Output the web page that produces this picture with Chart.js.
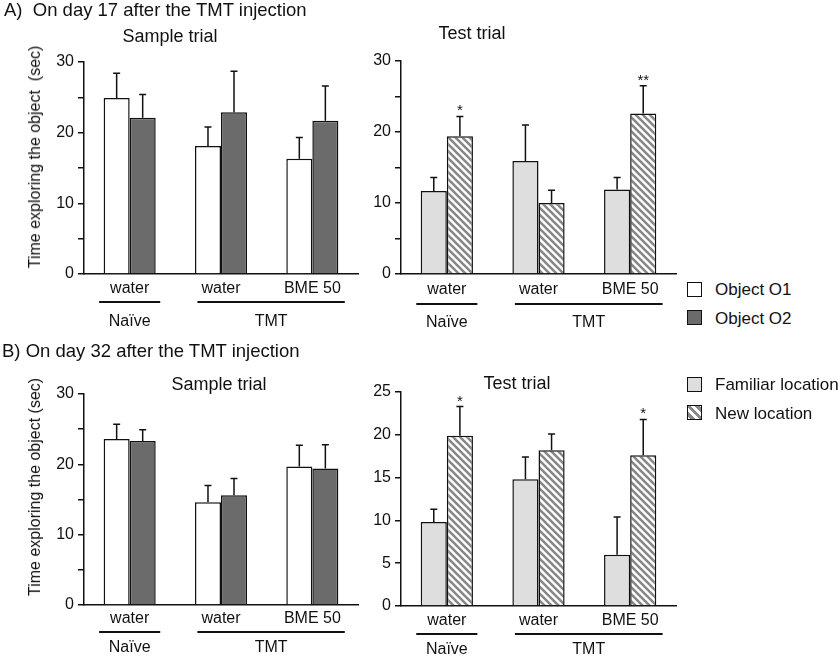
<!DOCTYPE html>
<html>
<head>
<meta charset="utf-8">
<script src="https://cdn.jsdelivr.net/npm/chart.js@4"></script>
<style>
  body { margin: 0; background: #fff; }
  #fig { position: relative; width: 838px; height: 657px; font-family: "Liberation Sans", Arial, sans-serif; color: #111; }
  #fig canvas { position: absolute; }
  .t { position: absolute; white-space: nowrap; line-height: 1; }
  .l { transform: translate(0, -50%); }
  .c { transform: translate(-50%, -50%); }
  .v { transform: translate(-50%, -50%) rotate(-90deg); }
  .box { position: absolute; width: 15px; height: 15px; border: 1.5px solid #111; box-sizing: border-box; }
</style>
</head>
<body>
<div id="fig">
  <canvas id="aSample" width="360" height="330" style="left:0;top:0"></canvas>
  <canvas id="aTest" width="320" height="330" style="left:360px;top:0"></canvas>
  <canvas id="bSample" width="360" height="327" style="left:0;top:330px"></canvas>
  <canvas id="bTest" width="320" height="327" style="left:360px;top:330px"></canvas>

  <div class="t l" style="left:4px;top:10px;font-size:18.5px">A)&nbsp; On day 17 after the TMT injection</div>
  <div class="t c" style="left:170px;top:36px;font-size:18px">Sample trial</div>
  <div class="t c" style="left:472px;top:33px;font-size:18px">Test trial</div>
  <div class="t v" style="left:35px;top:157px;font-size:16px">Time exploring the object&nbsp; (sec)</div>

  <div class="t l" style="left:2px;top:351px;font-size:18.5px">B) On day 32 after the TMT injection</div>
  <div class="t c" style="left:219px;top:384px;font-size:18px">Sample trial</div>
  <div class="t c" style="left:517px;top:383px;font-size:18px">Test trial</div>
  <div class="t v" style="left:35px;top:487px;font-size:16px">Time exploring the object (sec)</div>

  <div class="box" style="left:687px;top:282px;background:#fff"></div>
  <div class="t l" style="left:715px;top:289px;font-size:17px">Object O1</div>
  <div class="box" style="left:687px;top:310px;background:#6b6b6b"></div>
  <div class="t l" style="left:715px;top:318px;font-size:17px">Object O2</div>
  <div class="box" style="left:687px;top:377px;background:#dedede"></div>
  <div class="t l" style="left:715px;top:384px;font-size:17px">Familiar location</div>
  <div class="box" style="left:687px;top:405px;background:repeating-linear-gradient(45deg,#fff 0 2px,#888 2px 5px,#fff 5px 6px)"></div>
  <div class="t l" style="left:715px;top:413px;font-size:17px">New location</div>
</div>

<script>
const FONT = '"Liberation Sans", Arial, sans-serif';

// categories and the groups under them
const treatments = ['water', 'water', 'BME 50'];
const groupNames = ['Naïve', 'TMT'];
const groupOf = [0, 1, 1];

// day 17, sample trial
const aSampleO1 = [24.9, 18.1, 16.3];
const aSampleO1Err = [3.5, 2.7, 3.0];
const aSampleO2 = [22.1, 22.9, 21.7];
const aSampleO2Err = [3.3, 5.8, 4.9];

// day 17, test trial
const aTestFamiliar = [11.7, 15.9, 11.9];
const aTestFamiliarErr = [1.9, 5.1, 1.7];
const aTestNew = [19.4, 10.0, 22.6];
const aTestNewErr = [2.8, 1.8, 3.9];
const aTestStars = ['*', '', '**'];

// day 32, sample trial
const bSampleO1 = [23.6, 14.6, 19.7];
const bSampleO1Err = [2.1, 2.4, 3.0];
const bSampleO2 = [23.3, 15.6, 19.4];
const bSampleO2Err = [1.6, 2.4, 3.4];

// day 32, test trial
const bTestFamiliar = [9.8, 14.8, 6.0];
const bTestFamiliarErr = [1.5, 2.6, 4.4];
const bTestNew = [19.9, 18.2, 17.6];
const bTestNewErr = [3.4, 1.9, 4.2];
const bTestStars = ['*', '', '*'];

Chart.defaults.font.family = FONT;
Chart.defaults.color = '#111';

function hatch() {
  const c = document.createElement('canvas');
  c.width = 7; c.height = 7;
  const g = c.getContext('2d');
  g.fillStyle = '#fff';
  g.fillRect(0, 0, 7, 7);
  g.strokeStyle = '#888';
  g.lineWidth = 2.6;
  g.beginPath();
  g.moveTo(-2, -2); g.lineTo(9, 9);
  g.moveTo(-9, -2); g.lineTo(2, 9);
  g.moveTo(5, -2); g.lineTo(16, 9);
  g.stroke();
  return g.createPattern(c, 'repeat');
}

const extras = {
  id: 'extras',
  afterDatasetsDraw(chart) {
    const ctx = chart.ctx, y = chart.scales.y;
    ctx.save();
    ctx.strokeStyle = '#111';
    ctx.lineWidth = 1.5;
    chart.data.datasets.forEach((ds, i) => {
      chart.getDatasetMeta(i).data.forEach((bar, j) => {
        const top = y.getPixelForValue(ds.data[j] + ds.errors[j]);
        ctx.beginPath();
        ctx.moveTo(bar.x, bar.y);
        ctx.lineTo(bar.x, top);
        ctx.moveTo(bar.x - 3.5, top);
        ctx.lineTo(bar.x + 3.5, top);
        ctx.stroke();
        if (ds.stars && ds.stars[j]) {
          ctx.font = '15px ' + FONT;
          ctx.fillStyle = '#111';
          ctx.textAlign = 'center';
          ctx.textBaseline = 'alphabetic';
          ctx.fillText(ds.stars[j], bar.x, top - 1);
        }
      });
    });
    ctx.restore();
  },
  afterDraw(chart, args, opts) {
    const ctx = chart.ctx, x = chart.scales.x, b = chart.chartArea.bottom;
    const labels = chart.data.labels;
    ctx.save();
    ctx.font = '16px ' + FONT;
    ctx.fillStyle = '#111';
    ctx.strokeStyle = '#111';
    ctx.lineWidth = 2;
    ctx.textAlign = 'center';
    ctx.textBaseline = 'middle';
    groupNames.forEach((name, g) => {
      const idx = labels.map((_, i) => i).filter(i => groupOf[i] === g);
      const first = idx[0], last = idx[idx.length - 1];
      const pad = opts.pads[g];
      const x0 = x.getPixelForValue(first) - ctx.measureText(labels[first]).width / 2 - pad;
      const x1 = x.getPixelForValue(last) + ctx.measureText(labels[last]).width / 2 + pad;
      ctx.beginPath();
      ctx.moveTo(x0, b + opts.lineDy);
      ctx.lineTo(x1, b + opts.lineDy);
      ctx.stroke();
      ctx.fillText(name, (x0 + x1) / 2, b + opts.labelDy);
    });
    ctx.restore();
  }
};

function makeChart(id, sets, layout) {
  return new Chart(document.getElementById(id), {
    type: 'bar',
    data: {
      labels: treatments,
      datasets: sets.map(s => ({
        data: s.data,
        errors: s.errors,
        stars: s.stars,
        backgroundColor: s.fill,
        borderColor: '#111',
        borderWidth: 1.5,
        borderSkipped: 'bottom',
        categoryPercentage: 0.57,
        barPercentage: 1
      }))
    },
    options: {
      responsive: false,
      animation: false,
      layout: { padding: { top: layout.top, right: layout.right, left: 0, bottom: 0 } },
      plugins: {
        legend: { display: false },
        tooltip: { enabled: false },
        extras: { pads: [11, 4], lineDy: layout.lineDy, labelDy: layout.labelDy }
      },
      scales: {
        x: {
          grid: { display: false, drawTicks: false },
          border: { display: true, color: '#111', width: 1.5 },
          ticks: { font: { size: 16 }, padding: layout.tickPad, maxRotation: 0 },
          afterFit: s => { s.height = layout.xH; }
        },
        y: {
          min: 0,
          max: layout.max,
          grid: { drawOnChartArea: false, drawTicks: true, tickLength: 6, color: '#111', lineWidth: 1.5 },
          border: { display: true, color: '#111', width: 1.5 },
          ticks: {
            stepSize: 5,
            padding: 4,
            font: { size: 16 },
            callback: v => (v % layout.labelEvery === 0 ? v : '')
          },
          afterFit: s => { s.width = layout.yW; }
        }
      }
    },
    plugins: [extras]
  });
}

const white = '#ffffff', dark = '#6b6b6b', light = '#dedede', stripes = hatch();

makeChart('aSample', [
  { data: aSampleO1, errors: aSampleO1Err, fill: white },
  { data: aSampleO2, errors: aSampleO2Err, fill: dark }
], { top: 62, right: 2, yW: 84, xH: 56, max: 30, labelEvery: 10, tickPad: 5, lineDy: 28, labelDy: 48 });

makeChart('aTest', [
  { data: aTestFamiliar, errors: aTestFamiliarErr, fill: light },
  { data: aTestNew, errors: aTestNewErr, stars: aTestStars, fill: stripes }
], { top: 61, right: 4, yW: 41, xH: 56, max: 30, labelEvery: 10, tickPad: 6, lineDy: 30, labelDy: 49 });

makeChart('bSample', [
  { data: bSampleO1, errors: bSampleO1Err, fill: white },
  { data: bSampleO2, errors: bSampleO2Err, fill: dark }
], { top: 64, right: 2, yW: 84, xH: 52, max: 30, labelEvery: 10, tickPad: 4, lineDy: 27, labelDy: 43 });

makeChart('bTest', [
  { data: bTestFamiliar, errors: bTestFamiliarErr, fill: light },
  { data: bTestNew, errors: bTestNewErr, stars: bTestStars, fill: stripes }
], { top: 62, right: 4, yW: 41, xH: 51, max: 25, labelEvery: 5, tickPad: 5, lineDy: 28, labelDy: 44 });
</script>
</body>
</html>
